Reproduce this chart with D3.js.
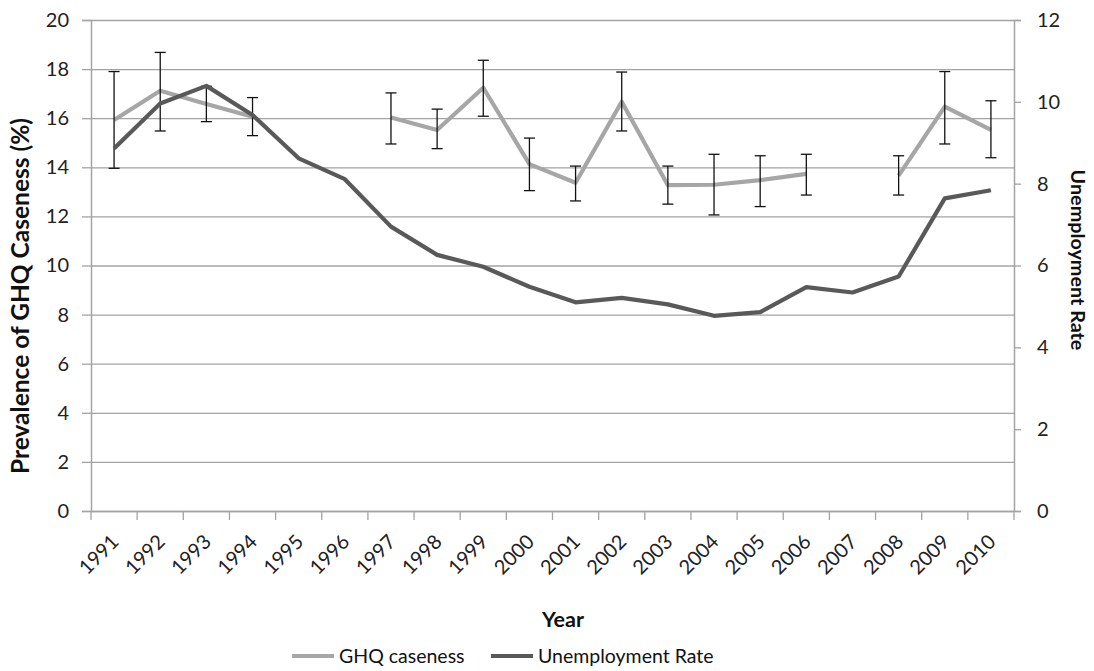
<!DOCTYPE html>
<html>
<head>
<meta charset="utf-8">
<script src="https://cdn.jsdelivr.net/npm/d3@7/dist/d3.min.js"></script>
<style>
  html, body { margin: 0; padding: 0; background: #fff; }
  svg { display: block; font-family: Lato, "Open Sans", sans-serif; }
</style>
</head>
<body>
<svg id="chart" width="1094" height="671"></svg>
<script>
// Survey years
const years = ["1991","1992","1993","1994","1995","1996","1997","1998","1999","2000",
               "2001","2002","2003","2004","2005","2006","2007","2008","2009","2010"];
// Prevalence of GHQ caseness (%), with 95% confidence limits (null = no survey)
const ghq     = [15.93, 17.12, 16.58, 16.06, null, null, 16.03, 15.52, 17.24, 14.13,
                 13.37, 16.67, 13.27, 13.29, 13.48, 13.73, null, 13.66, 16.47, 15.52];
const ghqLow  = [13.96, 15.48, 15.86, 15.29, null, null, 14.95, 14.76, 16.08, 13.05,
                 12.63, 15.48, 12.50, 12.06, 12.40, 12.87, null, 12.87, 14.95, 14.39];
const ghqHigh = [17.90, 18.68, 17.30, 16.84, null, null, 17.03, 16.37, 18.36, 15.19,
                 14.05, 17.88, 14.05, 14.53, 14.47, 14.53, null, 14.47, 17.90, 16.71];
// Unemployment rate (%)
const unemp   = [8.86, 9.96, 10.39, 9.68, 8.62, 8.11, 6.95, 6.26, 5.97, 5.48,
                 5.10, 5.21, 5.05, 4.77, 4.86, 5.47, 5.34, 5.73, 7.64, 7.84];
// Axis ticks
const leftTicks  = [0, 2, 4, 6, 8, 10, 12, 14, 16, 18, 20];
const rightTicks = [0, 2, 4, 6, 8, 10, 12];
const seriesNames = ["GHQ caseness", "Unemployment Rate"];

const svg = d3.select("#chart");
const plot = { left: 91, right: 1014, top: 20, bottom: 511 };
const gridColor = "#a3a3a3";
const lightColor = "#a6a6a6";
const darkColor = "#595959";
const tickFont = 20;

const x = d3.scaleBand().domain(years).range([plot.left, plot.right]).padding(0);
const cx = y => x(y) + x.bandwidth() / 2;
const yL = d3.scaleLinear().domain([0, 20]).range([plot.bottom, plot.top]);
const yR = d3.scaleLinear().domain([0, 12]).range([plot.bottom, plot.top]);

// Horizontal gridlines
svg.append("g")
  .selectAll("line").data(leftTicks).join("line")
  .attr("x1", plot.left).attr("x2", plot.right)
  .attr("y1", d => yL(d) + 0.5).attr("y2", d => yL(d) + 0.5)
  .attr("stroke", gridColor).attr("stroke-width", 1.3);

// Left axis
const gLeft = svg.append("g").attr("transform", `translate(${plot.left},0)`)
  .call(d3.axisLeft(yL).tickValues(leftTicks).tickSize(9).tickPadding(13));
// Right axis
const gRight = svg.append("g").attr("transform", `translate(${plot.right},0)`)
  .call(d3.axisRight(yR).tickValues(rightTicks).tickSize(7).tickPadding(16));
[gLeft, gRight].forEach(g => {
  g.select(".domain").attr("stroke", gridColor).attr("stroke-width", 1.5);
  g.selectAll(".tick line").attr("stroke", gridColor).attr("stroke-width", 1.3);
  g.selectAll(".tick text").attr("font-size", tickFont).attr("fill", "#222")
    .attr("font-family", "Lato, sans-serif");
});

// Bottom axis: ticks on category boundaries, labels at category centres
const gBottom = svg.append("g").attr("transform", `translate(0,${plot.bottom})`);
gBottom.append("line")
  .attr("x1", plot.left).attr("x2", plot.right).attr("y1", 0.5).attr("y2", 0.5)
  .attr("stroke", gridColor).attr("stroke-width", 1.5);
gBottom.selectAll("line.tick")
  .data(years.map(y => x(y)).concat([x.range()[1]]))
  .join("line").attr("class", "tick")
  .attr("x1", d => d).attr("x2", d => d).attr("y1", 0).attr("y2", 9)
  .attr("stroke", gridColor).attr("stroke-width", 1.3);
gBottom.selectAll("text")
  .data(years).join("text")
  .attr("transform", d => `translate(${cx(d) + 6},${32}) rotate(-45)`)
  .attr("text-anchor", "end")
  .attr("font-size", tickFont).attr("fill", "#222")
  .text(d => d);

// Series paths
const idx = d3.range(years.length);
const lineGhq = d3.line()
  .defined(i => ghq[i] != null)
  .x(i => cx(years[i])).y(i => yL(ghq[i]));
const lineUnemp = d3.line()
  .x(i => cx(years[i])).y(i => yR(unemp[i]));

svg.append("path").datum(idx)
  .attr("d", lineGhq).attr("fill", "none")
  .attr("stroke", lightColor).attr("stroke-width", 4.2)
  .attr("stroke-linejoin", "round");

// Error bars for GHQ caseness
const withData = idx.filter(i => ghq[i] != null);
const eb = svg.append("g").attr("stroke", "#111").attr("stroke-width", 1.3);
eb.selectAll("line.v").data(withData).join("line").attr("class", "v")
  .attr("x1", i => cx(years[i])).attr("x2", i => cx(years[i]))
  .attr("y1", i => yL(ghqLow[i])).attr("y2", i => yL(ghqHigh[i]));
eb.selectAll("line.top").data(withData).join("line").attr("class", "top")
  .attr("x1", i => cx(years[i]) - 5.5).attr("x2", i => cx(years[i]) + 5.5)
  .attr("y1", i => yL(ghqHigh[i])).attr("y2", i => yL(ghqHigh[i]));
eb.selectAll("line.bot").data(withData).join("line").attr("class", "bot")
  .attr("x1", i => cx(years[i]) - 5.5).attr("x2", i => cx(years[i]) + 5.5)
  .attr("y1", i => yL(ghqLow[i])).attr("y2", i => yL(ghqLow[i]));

svg.append("path").datum(idx)
  .attr("d", lineUnemp).attr("fill", "none")
  .attr("stroke", darkColor).attr("stroke-width", 4.2)
  .attr("stroke-linejoin", "round");

// Axis titles
svg.append("text")
  .attr("transform", "translate(29,296) rotate(-90)")
  .attr("text-anchor", "middle").attr("font-weight", "bold")
  .attr("font-size", 24.5).attr("fill", "#111")
  .text("Prevalence of GHQ Caseness (%)");
svg.append("text")
  .attr("transform", "translate(1071,260) rotate(90)")
  .attr("text-anchor", "middle").attr("font-weight", "bold")
  .attr("font-size", 19.8).attr("fill", "#111")
  .text("Unemployment Rate");
svg.append("text")
  .attr("x", 563).attr("y", 627)
  .attr("text-anchor", "middle").attr("font-weight", "bold")
  .attr("font-size", 21.5).attr("fill", "#111")
  .text("Year");

// Legend
const legendItems = [
  { name: seriesNames[0], color: lightColor, x: 292 },
  { name: seriesNames[1], color: darkColor, x: 491 }
];
const lg = svg.append("g").attr("transform", "translate(0,656)");
legendItems.forEach(item => {
  lg.append("line")
    .attr("x1", item.x).attr("x2", item.x + 42).attr("y1", 0).attr("y2", 0)
    .attr("stroke", item.color).attr("stroke-width", 4.2);
  lg.append("text")
    .attr("x", item.x + 47).attr("y", 0).attr("dy", "0.35em")
    .attr("font-size", 19.5).attr("fill", "#111")
    .text(item.name);
});
</script>
</body>
</html>
